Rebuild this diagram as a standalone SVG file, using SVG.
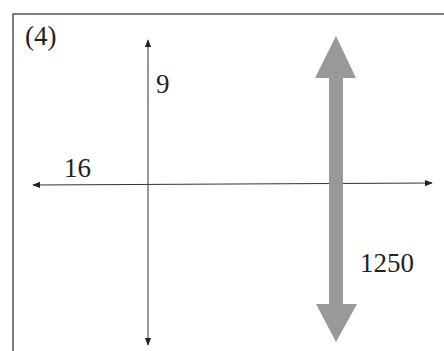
<svg xmlns="http://www.w3.org/2000/svg" width="444" height="351" viewBox="0 0 444 351">
<style>
text{font-family:'Liberation Serif','Times New Roman','DejaVu Serif',serif;font-size:27px;fill:#222}
.thin{stroke:#333;stroke-width:1;fill:none}
</style>
<defs>
<marker id="ah" viewBox="0 0 10 10" refX="9" refY="5" markerWidth="8" markerHeight="8" markerUnits="userSpaceOnUse" orient="auto-start-reverse">
<path d="M0,1 L10,5 L0,9 Z" fill="#222"/>
</marker>
</defs>
<rect width="444" height="351" fill="#fff"/>
<g id="frame">
<path d="M13,351 L13,14 L444,14" stroke="#555" stroke-width="1.5" fill="none"/>
</g>
<g id="connectors">
<line class="thin" x1="148" y1="40" x2="148" y2="345" marker-start="url(#ah)" marker-end="url(#ah)"/>
<line class="thin" x1="33" y1="185" x2="432" y2="183" marker-start="url(#ah)" marker-end="url(#ah)"/>
<path id="big-arrow" d="M336,36 L356,78 L343,78 L343,304 L357,304 L336,342 L316,304 L329,304 L329,78 L315,78 Z" fill="#999"/>
</g>
<g id="label-4"><text x="25" y="45" font-family="Liberation Serif, serif" font-size="24">(4)</text></g>
<g id="label-9"><text x="156" y="93" font-family="Liberation Serif, serif">9</text></g>
<g id="label-16"><text x="64" y="177" font-family="Liberation Serif, serif">16</text></g>
<g id="label-1250"><text x="360" y="272" font-family="Liberation Serif, serif">1250</text></g>
</svg>
